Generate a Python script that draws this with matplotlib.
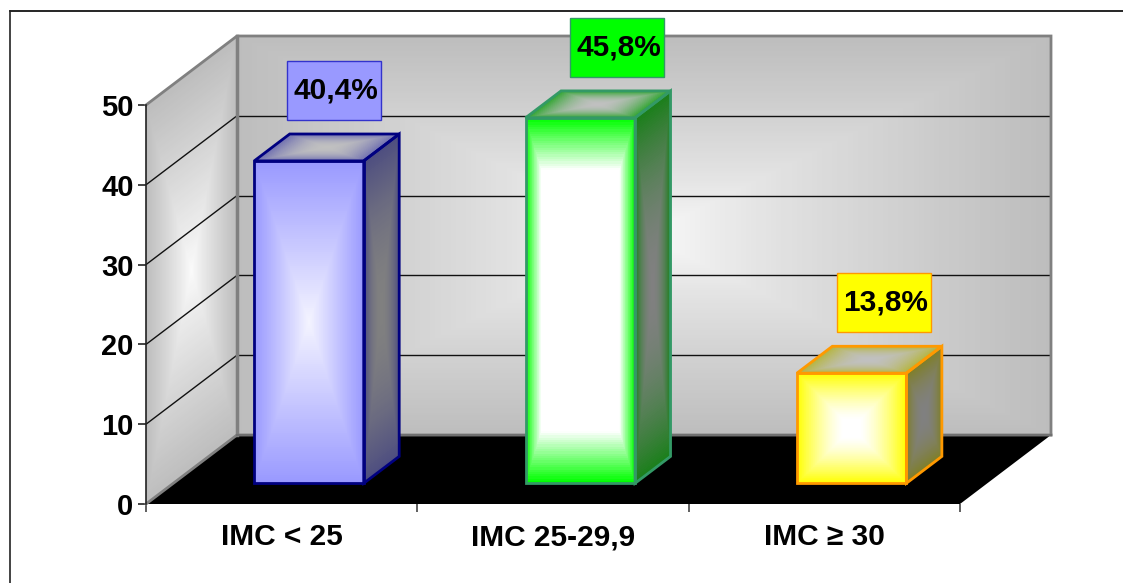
import numpy as np
import matplotlib
matplotlib.use("Agg")
import matplotlib.pyplot as plt
from matplotlib.lines import Line2D
from matplotlib.patches import Polygon, Rectangle
from matplotlib.colors import to_rgb

plt.rcParams['font.family'] = ['Liberation Sans', 'DejaVu Sans']

categories = ["IMC < 25", "IMC 25-29,9", "IMC ≥ 30"]
percents = [40.4, 45.8, 13.8]
percent_labels = ["40,4%", "45,8%", "13,8%"]
y_ticks = [0, 10, 20, 30, 40, 50]

edge_colors = ["#000080", "#339966", "#ff9900"]
front_edge = ["#9999ff", "#00ff00", "#ffff00"]
front_mid = ["#f4f4ff", "#ffffff", "#ffffff"]
front_plateau = [0.0, 0.72, 0.15]
front_power = [1.0, 1.0, 1.4]
side_edge = ["#4d4d80", "#1a7f1a", "#7f7f26"]
top_edge = ["#6e6eb0", "#2fa52f", "#b5b53c"]
box_colors = ["#9999ff", "#00ff00", "#ffff00"]
box_edges = ["#3333cc", "#339966", "#ff9900"]
# box centre relative to the bar's front face, pixels
box_shift = [25, 37, 32]

W, H = 1123, 583
fig = plt.figure(figsize=(W / 100, H / 100), dpi=100)
ax = fig.add_axes([146 / W, 1 - 504 / H, (960 - 146) / W, (504 - 105) / H])

PX_X = 3 / (960 - 146)
PX_Y = 50 / (504 - 105)
# depth of the 3d box, in data units
DX = 91 * PX_X
DY = 69 * PX_Y


def shade(nu, nv, edge, mid, plateau=0.0, power=1.0):
    # rectangular path gradient, mid colour in the centre and edge colour on the rim
    u = np.linspace(-1, 1, nu)
    v = np.linspace(-1, 1, nv)
    t = np.maximum(np.abs(u)[None, :], np.abs(v)[:, None])
    t = np.clip((t - plateau) / (1 - plateau), 0, 1) ** power
    e, m = np.array(to_rgb(edge)), np.array(to_rgb(mid))
    return m + (e - m) * t[..., None]


def quad(p0, p1, p3, edge, mid, plateau=0.0, power=1.0, z=1, n=160):
    # shaded parallelogram p0 -> p1 (first side), p0 -> p3 (second side)
    p0, p1, p3 = np.array(p0), np.array(p1), np.array(p3)
    a = np.linspace(0, 1, n + 1)
    b = np.linspace(0, 1, n + 1)
    A, B = np.meshgrid(a, b)
    X = p0[0] + A * (p1[0] - p0[0]) + B * (p3[0] - p0[0])
    Y = p0[1] + A * (p1[1] - p0[1]) + B * (p3[1] - p0[1])
    c = shade(n, n, edge, mid, plateau, power)
    ax.pcolormesh(X, Y, c, shading="flat", zorder=z, clip_on=False,
                  antialiased=False, linewidth=0, rasterized=True)


def outline(points, color, lw, z):
    ax.add_patch(Polygon(points, closed=True, fill=False, edgecolor=color, lw=lw,
                         joinstyle="miter", zorder=z, clip_on=False))


# back wall and side wall
quad((DX, DY), (3 + DX, DY), (DX, 50 + DY), "#bdbdbd", "#fbfbfb", power=0.8, z=1)
quad((0, 0), (DX, DY), (0, 50), "#bdbdbd", "#fbfbfb", power=0.9, z=1)

# floor
ax.add_patch(Polygon([(0, 0), (3, 0), (3 + DX, DY), (DX, DY)], closed=True,
                     facecolor="black", edgecolor="none", zorder=2, clip_on=False))

# grid lines on both walls
for val in y_ticks[1:-1]:
    ax.plot([DX, 3 + DX], [val + DY, val + DY], color="#111111", lw=1, zorder=2,
            clip_on=False, solid_capstyle="butt")
    ax.plot([0, DX], [val, val + DY], color="#111111", lw=1, zorder=2, clip_on=False,
            solid_capstyle="butt")

# wall outlines
gray = "#808080"
ax.plot([0, DX, 3 + DX, 3 + DX], [50, 50 + DY, 50 + DY, DY], color=gray, lw=2, zorder=3,
        clip_on=False, solid_joinstyle="miter")
ax.plot([DX, DX], [DY, 50 + DY], color=gray, lw=2.5, zorder=3, clip_on=False)
ax.plot([0, DX, 3 + DX], [0, DY, DY], color=gray, lw=2, zorder=3, clip_on=False)
ax.plot([DX + 0.0, 3 + DX], [DY, DY], color="#707070", lw=1.5, zorder=3, clip_on=False)

# bars
bar_w = 109.5 * PX_X
d0, d1 = 0.30, 0.69
for i, val in enumerate(percents):
    x0 = i + 0.5 - bar_w / 2 + d0 * DX
    x1 = x0 + bar_w
    y0 = d0 * DY
    dx = (d1 - d0) * DX
    dy = (d1 - d0) * DY
    z = 5 + i

    quad((x0, y0), (x1, y0), (x0, y0 + val), front_edge[i], front_mid[i],
         plateau=front_plateau[i], power=front_power[i], z=z)
    quad((x1, y0), (x1 + dx, y0 + dy), (x1, y0 + val), side_edge[i], "#808080", power=2, z=z)
    quad((x0, y0 + val), (x1, y0 + val), (x0 + dx, y0 + val + dy), top_edge[i], "#c0c0c0",
         power=2, z=z)

    col = edge_colors[i]
    outline([(x0, y0), (x1, y0), (x1, y0 + val), (x0, y0 + val)], col, 2, z + 0.5)
    outline([(x1, y0), (x1 + dx, y0 + dy), (x1 + dx, y0 + val + dy), (x1, y0 + val)], col, 2, z + 0.5)
    outline([(x0, y0 + val), (x1, y0 + val), (x1 + dx, y0 + val + dy), (x0 + dx, y0 + val + dy)],
            col, 2, z + 0.5)

    # value label in its box
    cx = (x0 + x1) / 2 + box_shift[i] * PX_X
    bw, bh = 94 * PX_X, 59 * PX_Y
    by = y0 + val + 41 * PX_Y
    ax.add_patch(Rectangle((cx - bw / 2, by), bw, bh, facecolor=box_colors[i],
                           edgecolor=box_edges[i], lw=1, zorder=10, clip_on=False))
    ax.text(cx + 2 * PX_X, by + bh / 2, percent_labels[i], ha="center", va="center",
            fontsize=21.5, fontweight="bold", color="black", zorder=11, clip_on=False)

ax.set_xlim(0, 3)
ax.set_ylim(0, 50)
ax.patch.set_visible(False)
for name in ["top", "right", "bottom"]:
    ax.spines[name].set_visible(False)
ax.spines["left"].set_color("#222222")
ax.spines["left"].set_linewidth(1.2)
ax.spines["left"].set_zorder(4)

ax.set_yticks(y_ticks)
ax.set_xticks([0, 1, 2, 3])
ax.set_xticklabels([])
ax.set_xticks([0.5, 1.5, 2.5], minor=True)
ax.set_xticklabels(categories, minor=True, fontsize=21.5, fontweight="bold")
ax.tick_params(axis="x", which="major", length=6, width=1.2, color="#444444")
ax.tick_params(axis="x", which="minor", length=0, pad=14)
ax.tick_params(axis="y", length=6, width=1.2, color="#222222", pad=3, labelsize=21)
for lab in ax.get_yticklabels():
    lab.set_fontweight("bold")

# top and left rules around the chart
fig.add_artist(Line2D([9.5 / W, 1], [1 - 10.5 / H, 1 - 10.5 / H], color="black", lw=1.2))
fig.add_artist(Line2D([9.5 / W, 9.5 / W], [0, 1 - 10.5 / H], color="#222222", lw=1.2))

fig.savefig("out.png", dpi=100)
